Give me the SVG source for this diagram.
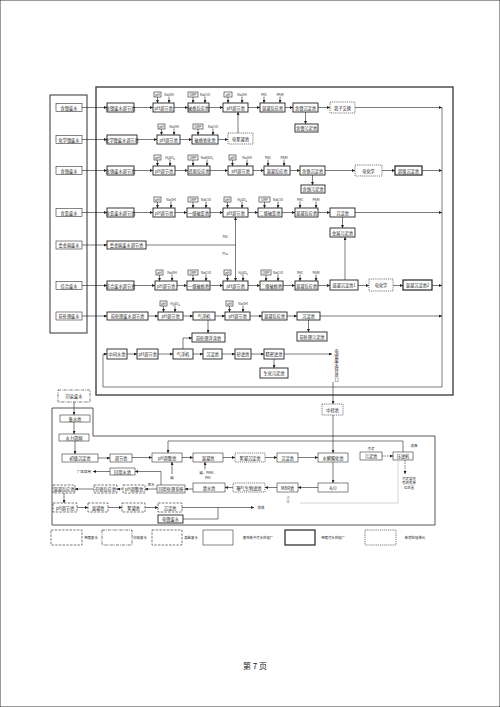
<svg xmlns="http://www.w3.org/2000/svg" width="500" height="707" viewBox="0 0 500 707">
<defs>
<marker id="a" viewBox="0 0 6 6" refX="6" refY="3" markerWidth="3" markerHeight="3" markerUnits="userSpaceOnUse" orient="auto"><path d="M0,0L6,3L0,6Z" fill="#222"/></marker>
<style>
text{font-family:"Noto Sans CJK SC","Noto Sans",sans-serif;fill:#222}
.l{font-size:4.2px;text-anchor:middle;dominant-baseline:central}
.s{font-size:3.4px;text-anchor:middle;dominant-baseline:central}
rect{fill:#fff;stroke:#222;stroke-width:0.9}
.th{stroke-width:0.55}
.dt{stroke-dasharray:1.2 0.9;stroke-width:0.6}
.ds{stroke-dasharray:2.5 1.2;stroke-width:0.6}
.dd{stroke-dasharray:3 1 0.8 1;stroke-width:0.6}
.tg{stroke-width:0.6}
.fr{fill:none;stroke:#444;stroke-width:1.4}
#conn line,#conn path{stroke:#222;stroke-width:0.6;fill:none;marker-end:url(#a)}
#conn .nm{marker-end:none}
#conn .dl{stroke-dasharray:1.5 1}
#conn .fa{stroke:#bbb;marker-end:none}
</style>
</defs>
<rect x="0" y="0" width="500" height="707" fill="#fff" stroke="none"/>
<g id="frames">
<rect class="fr" x="96" y="87" width="357" height="308"/>
<rect class="fr" x="50" y="95" width="37" height="238" style="stroke-width:1.1"/>
<path class="fr" d="M52,408H93V436H435V525H52Z" style="stroke-width:0.9"/>
</g>
<g id="left">
<g id="L1"><rect class="th" x="56" y="103.5" width="26" height="8"/><text class="l" x="69" y="107.5">含镍废水</text></g>
<g id="L2"><rect class="th" x="56" y="135.5" width="26" height="8"/><text class="l" x="69" y="139.5">化学镍废水</text></g>
<g id="L3"><rect class="th" x="56" y="166.5" width="26" height="8"/><text class="l" x="69" y="170.5">含铬废水</text></g>
<g id="L4"><rect class="th" x="56" y="208.5" width="26" height="8"/><text class="l" x="69" y="212.5">含氰废水</text></g>
<g id="L5"><rect class="th" x="56" y="241" width="26" height="8"/><text class="l" x="69" y="245">重金属废水</text></g>
<g id="L6"><rect class="th" x="56" y="281.5" width="26" height="8"/><text class="l" x="69" y="285.5">综合废水</text></g>
<g id="L7"><rect class="th" x="56" y="312" width="26" height="8"/><text class="l" x="69" y="316">前处理废水</text></g>
</g>
<!-- Row 1 -->
<g id="r1a"><rect x="107" y="103" width="27" height="9"/><text class="l" x="120.5" y="107.5">含镍废水调节池</text></g>
<g id="r1b"><rect x="153" y="103" width="21" height="9"/><text class="l" x="163.5" y="107.5">pH调节池</text><rect class="tg" x="154" y="92" width="7" height="5"/><text class="s" x="157.5" y="94.5">pH</text><text class="s" x="169" y="94.5">NaOH</text></g>
<g id="r1c"><rect x="188" y="103" width="21" height="9"/><text class="l" x="198.5" y="107.5">破络反应池</text><rect class="tg" x="188" y="92" width="10" height="5"/><text class="s" x="193" y="94.5">ORP</text><text class="s" x="205" y="94.5">NaClO</text></g>
<g id="r1d"><rect x="223" y="103" width="25" height="9"/><text class="l" x="235.5" y="107.5">pH调节池</text><rect class="tg" x="224" y="92" width="8" height="5"/><text class="s" x="228" y="94.5">pH</text><text class="s" x="242" y="94.5">NaOH</text></g>
<g id="r1e"><rect x="260" y="103" width="25" height="9"/><text class="l" x="272.5" y="107.5">混凝反应池</text><text class="s" x="264" y="94.5">PAC</text><text class="s" x="280" y="94.5">PAM</text></g>
<g id="r1f"><rect x="293" y="103" width="25" height="9"/><text class="l" x="305.5" y="107.5">含镍沉淀池</text></g>
<g id="r1g"><rect class="dt" x="330" y="102" width="25" height="11"/><text class="l" x="342.5" y="107.5">离子交换</text></g>
<g id="r1s"><rect x="295" y="124" width="23" height="8"/><text class="l" x="306.5" y="128">含镍污泥池</text></g>
<!-- Row 2 -->
<g id="r2a"><rect x="107" y="135" width="30" height="9"/><text class="l" x="122" y="139.5">化学镍废水调节池</text></g>
<g id="r2b"><rect x="157" y="135" width="23" height="9"/><text class="l" x="168.5" y="139.5">pH调节池</text><rect class="tg" x="158" y="124" width="7" height="5"/><text class="s" x="161.5" y="126.5">pH</text><text class="s" x="174" y="126.5">NaOH</text></g>
<g id="r2c"><rect x="192" y="135" width="26" height="9"/><text class="l" x="205" y="139.5">破络氧化池</text><rect class="tg" x="193" y="124" width="10" height="5"/><text class="s" x="198" y="126.5">ORP</text><text class="s" x="213" y="126.5">NaClO</text></g>
<g id="r2d"><rect class="dt" x="228" y="133" width="25" height="11"/><text class="l" x="240.5" y="138.5">电絮凝池</text></g>
<!-- Row 3 -->
<g id="r3a"><rect x="107" y="166" width="27" height="9"/><text class="l" x="120.5" y="170.5">含铬废水调节池</text></g>
<g id="r3b"><rect x="153" y="166" width="22" height="9"/><text class="l" x="164" y="170.5">pH调节池</text><rect class="tg" x="154" y="155" width="7" height="5"/><text class="s" x="157.5" y="157.5">pH</text><text class="s" x="170" y="157.5">H₂SO₄</text></g>
<g id="r3c"><rect x="188" y="166" width="22" height="9"/><text class="l" x="199" y="170.5">还原反应池</text><rect class="tg" x="188" y="155" width="10" height="5"/><text class="s" x="193" y="157.5">ORP</text><text class="s" x="207" y="157.5">NaHSO₃</text></g>
<g id="r3d"><rect x="228" y="166" width="25" height="9"/><text class="l" x="240.5" y="170.5">pH调节池</text><rect class="tg" x="229" y="155" width="7" height="5"/><text class="s" x="232.5" y="157.5">pH</text><text class="s" x="247" y="157.5">NaOH</text></g>
<g id="r3e"><rect x="264" y="166" width="26" height="9"/><text class="l" x="277" y="170.5">混凝反应池</text><text class="s" x="268" y="157.5">PAC</text><text class="s" x="284" y="157.5">PAM</text></g>
<g id="r3f"><rect x="300" y="166" width="25" height="9"/><text class="l" x="312.5" y="170.5">含铬沉淀池</text></g>
<g id="r3s"><rect x="301" y="185" width="24" height="8"/><text class="l" x="313" y="189">含铬污泥池</text></g>
<g id="r3g"><rect class="dt" x="355" y="165" width="27" height="11"/><text class="l" x="368.5" y="170.5">电化学</text></g>
<g id="r3h"><rect x="395" y="166" width="27" height="9" style="stroke-width:1.2"/><text class="l" x="408.5" y="170.5">超级沉淀池</text></g>
<!-- Row 4 -->
<g id="r4a"><rect x="107" y="208" width="27" height="9"/><text class="l" x="120.5" y="212.5">含氰废水调节池</text></g>
<g id="r4b"><rect x="153" y="208" width="22" height="9"/><text class="l" x="164" y="212.5">pH调节池</text><rect class="tg" x="154" y="197" width="7" height="5"/><text class="s" x="157.5" y="199.5">pH</text><text class="s" x="171" y="199.5">NaOH</text></g>
<g id="r4c"><rect x="187" y="208" width="23" height="9"/><text class="l" x="198.5" y="212.5">一级破氰池</text><rect class="tg" x="188" y="197" width="10" height="5"/><text class="s" x="193" y="199.5">ORP</text><text class="s" x="206" y="199.5">NaClO</text></g>
<g id="r4d"><rect x="223" y="208" width="25" height="9"/><text class="l" x="235.5" y="212.5">pH调节池</text><rect class="tg" x="224" y="197" width="7" height="5"/><text class="s" x="227.5" y="199.5">pH</text><text class="s" x="242" y="199.5">H₂SO₄</text></g>
<g id="r4e"><rect x="258" y="208" width="24" height="9"/><text class="l" x="270" y="212.5">二级破氰池</text><rect class="tg" x="259" y="197" width="11" height="5"/><text class="s" x="264.5" y="199.5">ORP</text><text class="s" x="278" y="199.5">NaClO</text></g>
<g id="r4f"><rect x="295" y="208" width="23" height="9"/><text class="l" x="306.5" y="212.5">混凝反应池</text><text class="s" x="300" y="199.5">PAC</text><text class="s" x="316" y="199.5">PAM</text></g>
<g id="r4g"><rect x="330" y="208" width="25" height="9"/><text class="l" x="342.5" y="212.5">沉淀池</text></g>
<g id="r4s"><rect x="330" y="228" width="25" height="9"/><text class="l" x="342.5" y="232.5">金属污泥池</text></g>
<!-- Row 5 -->
<g id="r5a"><rect x="107" y="241" width="39" height="8"/><text class="l" x="126.5" y="245">重金属废水调节池</text></g>
<text class="s" x="225" y="236">TNi</text>
<text class="s" x="225" y="253">TCu</text>
<!-- Row 6 -->
<g id="r6a"><rect x="107" y="281" width="27" height="9"/><text class="l" x="120.5" y="285.5">综合废水调节池</text></g>
<g id="r6b"><rect x="155" y="281" width="22" height="9"/><text class="l" x="166" y="285.5">pH调节池</text><rect class="tg" x="156" y="270" width="7" height="5"/><text class="s" x="159.5" y="272.5">pH</text><text class="s" x="172" y="272.5">NaOH</text></g>
<g id="r6c"><rect x="187" y="281" width="23" height="9"/><text class="l" x="198.5" y="285.5">一级破络池</text><rect class="tg" x="188" y="270" width="10" height="5"/><text class="s" x="193" y="272.5">ORP</text><text class="s" x="206" y="272.5">NaClO</text></g>
<g id="r6d"><rect x="223" y="281" width="25" height="9"/><text class="l" x="235.5" y="285.5">pH调节池</text><rect class="tg" x="224" y="270" width="7" height="5"/><text class="s" x="227.5" y="272.5">pH</text><text class="s" x="243" y="272.5">H₂SO₄</text></g>
<g id="r6e"><rect x="260" y="281" width="23" height="9"/><text class="l" x="271.5" y="285.5">二级破络池</text><rect class="tg" x="261" y="270" width="10" height="5"/><text class="s" x="266" y="272.5">ORP</text><text class="s" x="278" y="272.5">NaClO</text></g>
<g id="r6f"><rect x="295" y="281" width="23" height="9"/><text class="l" x="306.5" y="285.5">混凝反应池</text><text class="s" x="300" y="272.5">PAC</text><text class="s" x="316" y="272.5">PAM</text></g>
<g id="r6g"><rect x="330" y="280" width="28" height="10"/><text class="l" x="344" y="285">混凝沉淀池1</text></g>
<g id="r6h"><rect class="dt" x="369" y="279" width="24" height="12"/><text class="l" x="381" y="285">电化学</text></g>
<g id="r6i"><rect x="403" y="280" width="29" height="10" style="stroke-width:1.2"/><text class="l" x="417.5" y="285">混凝沉淀池2</text></g>
<!-- Row 7 -->
<g id="r7a"><rect x="107" y="312" width="41" height="8"/><text class="l" x="127.5" y="316">前处理废水调节池</text></g>
<g id="r7b"><rect x="158" y="312" width="25" height="8"/><text class="l" x="170.5" y="316">pH调节池</text><rect class="tg" x="160" y="301" width="7" height="5"/><text class="s" x="163.5" y="303.5">pH</text><text class="s" x="175" y="303.5">H₂SO₄</text></g>
<g id="r7c"><rect x="193" y="312" width="22" height="8"/><text class="l" x="204" y="316">气浮机</text></g>
<g id="r7d"><rect x="225" y="312" width="25" height="8"/><text class="l" x="237.5" y="316">pH调节池</text><rect class="tg" x="226" y="301" width="7" height="5"/><text class="s" x="229.5" y="303.5">pH</text><text class="s" x="243" y="303.5">NaOH</text></g>
<g id="r7e"><rect x="262" y="312" width="25" height="8"/><text class="l" x="274.5" y="316">混凝反应池</text></g>
<g id="r7f"><rect x="297" y="312" width="23" height="8"/><text class="l" x="308.5" y="316">沉淀池</text></g>
<g id="r7s1"><rect x="192" y="333" width="33" height="9"/><text class="l" x="208.5" y="337.5">前处理浮渣池</text></g>
<g id="r7s2"><rect x="297" y="332" width="30" height="9"/><text class="l" x="312" y="336.5">前处理污泥池</text></g>
<!-- Row 8 -->
<g id="r8a"><rect x="107" y="349" width="20" height="10"/><text class="l" x="117" y="354">中间水池</text></g>
<g id="r8b"><rect x="137" y="349" width="21" height="10"/><text class="l" x="147.5" y="354">pH调节池</text></g>
<g id="r8c"><rect x="173" y="349" width="20" height="10"/><text class="l" x="183" y="354">气浮机</text></g>
<g id="r8d"><rect x="203" y="349" width="19" height="10"/><text class="l" x="212.5" y="354">沉淀池</text></g>
<g id="r8e"><rect x="235" y="349" width="16" height="10"/><text class="l" x="243" y="354">砂滤池</text></g>
<g id="r8f"><rect x="264" y="349" width="20" height="10"/><text class="l" x="274" y="354">精密滤池</text></g>
<g id="r8s"><rect x="260" y="368" width="28" height="10"/><text class="l" x="274" y="373">生化污泥池</text></g>
<g id="r8t"><text class="l" x="336.5" y="351">电</text><text class="l" x="336.5" y="355.6">镀</text><text class="l" x="336.5" y="360.2">废</text><text class="l" x="336.5" y="364.8">水</text><text class="l" x="336.5" y="369.4">排</text><text class="l" x="336.5" y="374">放</text><text class="l" x="336.5" y="378.6">口</text></g>
<g id="zz"><rect class="dt" x="322" y="404" width="21" height="11"/><text class="l" x="332.5" y="409.5">中转池</text></g>
<!-- Bottom block -->
<g id="b1"><rect class="dd" x="58" y="390" width="32" height="12"/><text class="l" x="74" y="396">印染废水</text></g>
<g id="b2"><rect class="th" x="60" y="415" width="30" height="7"/><text class="l" x="75" y="418.5">集水池</text></g>
<g id="b3"><rect class="th" x="59" y="434" width="30" height="7"/><text class="l" x="74" y="437.5">水力筛网</text></g>
<g id="b4"><rect class="th" x="62" y="454" width="36" height="8"/><text class="l" x="80" y="458">初级沉淀池</text></g>
<g id="b5"><rect class="th" x="110" y="454" width="22" height="8"/><text class="l" x="121" y="458">调节池</text></g>
<g id="b6"><rect class="th" x="152" y="453" width="30" height="9"/><text class="l" x="167" y="457.5">pH调整池</text></g>
<g id="b7"><rect class="th" x="193" y="453" width="30" height="9"/><text class="l" x="208" y="457.5">混凝池</text></g>
<g id="b8"><rect class="dt" x="235" y="453" width="30" height="9"/><text class="l" x="250" y="457.5">絮凝沉淀池</text></g>
<g id="b9"><rect class="th" x="277" y="453" width="21" height="9"/><text class="l" x="287.5" y="457.5">沉淀池</text></g>
<g id="b10"><rect class="th" x="318" y="453" width="30" height="9"/><text class="l" x="333" y="457.5">水解酸化池</text></g>
<g id="b11"><rect class="th" x="360" y="452" width="22" height="8"/><text class="l" x="371" y="456">污泥池</text></g>
<g id="b12"><rect class="th" x="393" y="452" width="20" height="8"/><text class="l" x="403" y="456">压滤机</text></g>
<g id="b13"><rect class="th" x="318" y="483" width="30" height="9"/><text class="l" x="333" y="487.5">A/O</text></g>
<g id="b14"><rect class="th" x="277" y="483" width="21" height="9"/><text class="l" x="287.5" y="487.5">MBR池</text></g>
<g id="b15"><rect class="dt" x="233" y="483" width="32" height="9"/><text class="l" x="249" y="487.5">曝气生物滤池</text></g>
<g id="b16"><rect class="th" x="193" y="483" width="32" height="9"/><text class="l" x="209" y="487.5">清水池</text></g>
<g id="b17"><rect class="th" x="157" y="485" width="28" height="8"/><text class="l" x="171" y="489">回用处理系统</text></g>
<g id="b18"><rect class="th" x="110" y="468" width="25" height="7"/><text class="l" x="122.5" y="471.5">回用水池</text></g>
<g id="b19"><rect class="ds" x="123" y="485" width="22" height="8"/><text class="l" x="134" y="489">pH调整池</text></g>
<g id="b20"><rect class="ds" x="94" y="485" width="23" height="8"/><text class="l" x="105.5" y="489">芬顿反应池</text></g>
<g id="b21"><rect class="ds" x="53" y="485" width="22" height="8"/><text class="l" x="64" y="489">混凝反应池</text></g>
<g id="b22"><rect class="ds" x="53" y="503" width="24" height="9"/><text class="l" x="65" y="507.5">pH调节池</text></g>
<g id="b23"><rect class="ds" x="88" y="503" width="20" height="9"/><text class="l" x="98" y="507.5">混凝池</text></g>
<g id="b24"><rect class="ds" x="122" y="503" width="23" height="9"/><text class="l" x="133.5" y="507.5">絮凝池</text></g>
<g id="b25"><rect class="ds" x="158" y="503" width="24" height="9"/><text class="l" x="170" y="507.5">沉淀池</text></g>
<g id="b26"><rect x="158" y="515" width="25" height="8"/><text class="l" x="170.5" y="519">电镀废水</text></g>
<g id="btxt">
<text class="s" x="172" y="477">碱</text>
<text class="s" x="208" y="472">碱、PAM、</text>
<text class="s" x="208" y="477">PAC</text>
<text class="s" x="414" y="445">滤液</text>
<text class="s" x="371" y="448">污泥</text>
<text class="s" x="151" y="484">浓水</text>
<text class="s" x="84" y="471.5">厂区回用</text>
<text class="s" x="261" y="507.5">排放</text>
<text class="s" x="409" y="478">污泥委托</text>
<text class="s" x="409" y="482.5">有资质单</text>
<text class="s" x="409" y="487">位处置</text>
<text class="s" x="288" y="497" style="fill:#999">滤</text>
<text class="s" x="288" y="501" style="fill:#999">液</text>
</g>
<g id="conn">
<!-- left to tanks -->
<line x1="82" y1="107.5" x2="107" y2="107.5"/>
<line x1="82" y1="139.5" x2="107" y2="139.5"/>
<line x1="82" y1="170.5" x2="107" y2="170.5"/>
<line x1="82" y1="212.5" x2="107" y2="212.5"/>
<line x1="82" y1="245" x2="107" y2="245"/>
<line x1="82" y1="285.5" x2="107" y2="285.5"/>
<line x1="82" y1="316" x2="107" y2="316"/>
<!-- row1 -->
<line x1="134" y1="107.5" x2="153" y2="107.5"/><line x1="174" y1="107.5" x2="188" y2="107.5"/><line x1="209" y1="107.5" x2="223" y2="107.5"/><line x1="248" y1="107.5" x2="260" y2="107.5"/><line x1="285" y1="107.5" x2="293" y2="107.5"/><line x1="318" y1="107.5" x2="330" y2="107.5"/><line x1="355" y1="107.5" x2="442" y2="107.5"/>
<line x1="305.5" y1="112" x2="305.5" y2="124"/>
<line x1="157.5" y1="97" x2="157.5" y2="103"/><line x1="169" y1="96.5" x2="169" y2="103"/><line x1="193" y1="97" x2="193" y2="103"/><line x1="205" y1="96.5" x2="205" y2="103"/><line x1="228" y1="97" x2="228" y2="103"/><line x1="242" y1="96.5" x2="242" y2="103"/><line x1="264" y1="96.5" x2="264" y2="103"/><line x1="280" y1="96.5" x2="280" y2="103"/>
<!-- row2 -->
<line x1="137" y1="139.5" x2="157" y2="139.5"/><line x1="180" y1="139.5" x2="192" y2="139.5"/><line x1="218" y1="139.5" x2="228" y2="139.5"/>
<line x1="238" y1="133" x2="238" y2="112"/>
<line x1="161.5" y1="129" x2="161.5" y2="135"/><line x1="174" y1="128.5" x2="174" y2="135"/><line x1="198" y1="129" x2="198" y2="135"/><line x1="213" y1="128.5" x2="213" y2="135"/>
<!-- row3 -->
<line x1="134" y1="170.5" x2="153" y2="170.5"/><line x1="175" y1="170.5" x2="188" y2="170.5"/><line x1="210" y1="170.5" x2="228" y2="170.5"/><line x1="253" y1="170.5" x2="264" y2="170.5"/><line x1="290" y1="170.5" x2="300" y2="170.5"/><line x1="325" y1="170.5" x2="355" y2="170.5"/><line x1="382" y1="170.5" x2="395" y2="170.5"/><line x1="422" y1="170.5" x2="442" y2="170.5"/>
<line x1="312.5" y1="175" x2="312.5" y2="185"/>
<line x1="157.5" y1="160" x2="157.5" y2="166"/><line x1="170" y1="159.5" x2="170" y2="166"/><line x1="193" y1="160" x2="193" y2="166"/><line x1="207" y1="159.5" x2="207" y2="166"/><line x1="232.5" y1="160" x2="232.5" y2="166"/><line x1="247" y1="159.5" x2="247" y2="166"/><line x1="268" y1="159.5" x2="268" y2="166"/><line x1="284" y1="159.5" x2="284" y2="166"/>
<!-- row4 -->
<line x1="134" y1="212.5" x2="153" y2="212.5"/><line x1="175" y1="212.5" x2="187" y2="212.5"/><line x1="210" y1="212.5" x2="223" y2="212.5"/><line x1="248" y1="212.5" x2="258" y2="212.5"/><line x1="282" y1="212.5" x2="295" y2="212.5"/><line x1="318" y1="212.5" x2="330" y2="212.5"/><line x1="355" y1="212.5" x2="442" y2="212.5"/>
<line x1="342.5" y1="217" x2="342.5" y2="228"/>
<line x1="157.5" y1="202" x2="157.5" y2="208"/><line x1="171" y1="201.5" x2="171" y2="208"/><line x1="193" y1="202" x2="193" y2="208"/><line x1="206" y1="201.5" x2="206" y2="208"/><line x1="227.5" y1="202" x2="227.5" y2="208"/><line x1="242" y1="201.5" x2="242" y2="208"/><line x1="264.5" y1="202" x2="264.5" y2="208"/><line x1="278" y1="201.5" x2="278" y2="208"/><line x1="300" y1="201.5" x2="300" y2="208"/><line x1="316" y1="201.5" x2="316" y2="208"/>
<!-- row5 -->
<line class="nm" x1="146" y1="245" x2="235.5" y2="245"/>
<line x1="235.5" y1="245" x2="235.5" y2="217"/>
<line x1="235.5" y1="245" x2="235.5" y2="281"/>
<!-- row6 -->
<line x1="134" y1="285.5" x2="155" y2="285.5"/><line x1="177" y1="285.5" x2="187" y2="285.5"/><line x1="210" y1="285.5" x2="223" y2="285.5"/><line x1="248" y1="285.5" x2="260" y2="285.5"/><line x1="283" y1="285.5" x2="295" y2="285.5"/><line x1="318" y1="285.5" x2="330" y2="285.5"/><line x1="358" y1="285.5" x2="369" y2="285.5"/><line x1="393" y1="285.5" x2="403" y2="285.5"/><line x1="432" y1="285.5" x2="442" y2="285.5"/>
<line x1="345" y1="280" x2="345" y2="237"/>
<line x1="159.5" y1="275" x2="159.5" y2="281"/><line x1="172" y1="274.5" x2="172" y2="281"/><line x1="193" y1="275" x2="193" y2="281"/><line x1="206" y1="274.5" x2="206" y2="281"/><line x1="227.5" y1="275" x2="227.5" y2="281"/><line x1="243" y1="274.5" x2="243" y2="281"/><line x1="266" y1="275" x2="266" y2="281"/><line x1="278" y1="274.5" x2="278" y2="281"/><line x1="300" y1="274.5" x2="300" y2="281"/><line x1="316" y1="274.5" x2="316" y2="281"/>
<!-- row7 -->
<line x1="148" y1="316" x2="158" y2="316"/><line x1="183" y1="316" x2="193" y2="316"/><line x1="215" y1="316" x2="225" y2="316"/><line x1="250" y1="316" x2="262" y2="316"/><line x1="287" y1="316" x2="297" y2="316"/><line x1="320" y1="316" x2="442" y2="316"/>
<line x1="208" y1="320" x2="208" y2="333"/><line x1="308.5" y1="320" x2="308.5" y2="332"/>
<line x1="163.5" y1="306" x2="163.5" y2="312"/><line x1="175" y1="305.5" x2="175" y2="312"/><line x1="229.5" y1="306" x2="229.5" y2="312"/><line x1="243" y1="305.5" x2="243" y2="312"/>
<!-- row8 -->
<line x1="127" y1="354" x2="137" y2="354"/><line x1="158" y1="354" x2="173" y2="354"/><line x1="193" y1="354" x2="203" y2="354"/><line x1="222" y1="354" x2="235" y2="354"/><line x1="251" y1="354" x2="264" y2="354"/><line x1="284" y1="354" x2="332" y2="354"/>
<line x1="274" y1="359" x2="274" y2="368"/>
<path d="M183,349V338H192"/>
<path class="nm" d="M442,107.5V387H103V354"/>
<line x1="103" y1="354" x2="107" y2="354"/>
<line x1="333" y1="382" x2="333" y2="404"/>
<line x1="333" y1="415" x2="333" y2="453"/>
<!-- bottom -->
<line x1="74" y1="402" x2="74" y2="415"/>
<line x1="74" y1="422" x2="74" y2="434"/>
<line x1="75" y1="441" x2="75" y2="454"/>
<line x1="98" y1="458" x2="110" y2="458"/><line x1="132" y1="457.5" x2="152" y2="457.5"/><line x1="182" y1="457.5" x2="193" y2="457.5"/><line x1="223" y1="457.5" x2="235" y2="457.5"/><line x1="265" y1="457.5" x2="277" y2="457.5"/><line x1="298" y1="457.5" x2="318" y2="457.5"/>
<line x1="172" y1="474" x2="172" y2="462"/>
<line x1="205" y1="469.5" x2="205" y2="462"/>
<path d="M403,452V441H168V453"/>
<line class="dl" x1="382" y1="456" x2="393" y2="456"/>
<line class="dl" x1="405" y1="460" x2="405" y2="474"/>
<line x1="333" y1="462" x2="333" y2="483"/>
<line x1="318" y1="487.5" x2="298" y2="487.5"/><line x1="277" y1="487.5" x2="265" y2="487.5"/><line x1="233" y1="487.5" x2="225" y2="487.5"/><line x1="193" y1="489" x2="185" y2="489"/>
<path d="M161,485V471.5H135"/>
<line x1="110" y1="471.5" x2="93" y2="471.5"/>
<line x1="157" y1="489" x2="145" y2="489"/>
<line x1="123" y1="489" x2="117" y2="489"/>
<line x1="94" y1="489" x2="75" y2="489"/>
<line x1="64" y1="493" x2="64" y2="503"/>
<line x1="77" y1="507.5" x2="88" y2="507.5"/><line x1="108" y1="507.5" x2="122" y2="507.5"/><line x1="145" y1="507.5" x2="158" y2="507.5"/>
<line x1="182" y1="507.5" x2="254" y2="507.5"/>
<path class="nm" d="M183,519H218V507.5"/>
<path class="fa" d="M398,460V503H300"/>
</g>
<g id="legend">
<rect class="ds" x="51" y="530" width="31" height="15"/><text class="s" x="91" y="537.5">电镀废水</text>
<rect class="dd" x="102" y="530" width="30" height="15"/><text class="s" x="140" y="537.5">印染废水</text>
<rect class="ds" x="152" y="530" width="30" height="15"/><text class="s" x="191" y="537.5">高盐废水</text>
<rect class="th" x="203" y="530" width="30" height="15"/><text class="s" x="258" y="537.5">基地集中污水处理厂</text>
<rect x="285" y="530" width="30" height="15" style="stroke-width:1.2"/><text class="s" x="333" y="537.5">电镀污水处理厂</text>
<rect class="dt" x="365" y="530" width="31" height="15"/><text class="s" x="415" y="537.5">新增处理单元</text>
</g>
<text x="255" y="669" style="font-size:8px;text-anchor:middle">第 7 页</text>
</svg>
